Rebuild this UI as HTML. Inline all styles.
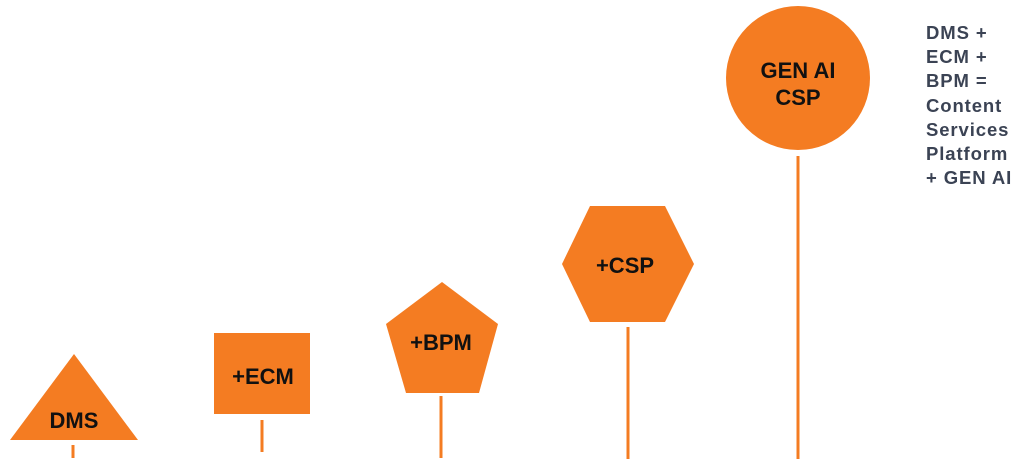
<!DOCTYPE html>
<html><head><meta charset="utf-8"><style>
html,body{margin:0;padding:0;background:#fff;}
body{width:1024px;height:470px;overflow:hidden;position:relative;}
svg{position:absolute;left:0;top:0;}
.t{font-family:"Liberation Sans",sans-serif;font-weight:bold;fill:#111;}
.r{position:absolute;left:926px;top:21px;font-family:"Liberation Sans",sans-serif;font-weight:bold;font-size:18.5px;line-height:24.2px;color:#3b4354;letter-spacing:0.9px;}
</style></head><body>
<svg width="1024" height="470" viewBox="0 0 1024 470">
<g fill="#f47c22">
<polygon points="74,354 138,440 10,440"/>
<rect x="214" y="333" width="96" height="81"/>
<polygon points="442,282 498,324 479,393 406,393 386,324"/>
<polygon points="590,206 665,206 694,264 665,322 590,322 562,264"/>
<circle cx="798" cy="78" r="72"/>
</g>
<g stroke="#f47c22" stroke-width="3">
<line x1="73" y1="445" x2="73" y2="458"/>
<line x1="262" y1="420" x2="262" y2="452"/>
<line x1="441" y1="396" x2="441" y2="458"/>
<line x1="628" y1="327" x2="628" y2="459"/>
<line x1="798" y1="156" x2="798" y2="459"/>
</g>
<g class="t" text-anchor="middle">
<text x="74" y="428" font-size="22">DMS</text>
<text x="263" y="384" font-size="22">+ECM</text>
<text x="441" y="350" font-size="22">+BPM</text>
<text x="625" y="273" font-size="22">+CSP</text>
<text x="798" y="78" font-size="22">GEN AI</text>
<text x="798" y="105" font-size="22">CSP</text>
</g>
</svg>
<div class="r">DMS +<br>ECM +<br>BPM =<br>Content<br>Services<br>Platform<br>+ GEN AI</div>
</body></html>
